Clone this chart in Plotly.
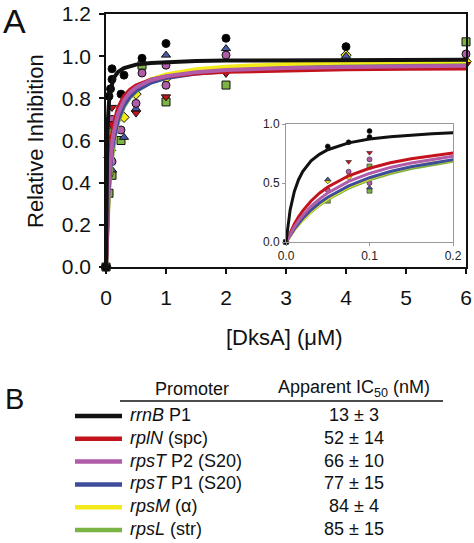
import plotly.graph_objects as go

W, H = 474, 543

# ---- fitted curves ----
curve_x = [0, 0.005, 0.01, 0.015, 0.02, 0.03, 0.04, 0.05, 0.075, 0.1, 0.125, 0.15, 0.175,
           0.2, 0.3, 0.4, 0.5, 0.75, 1, 1.5, 2, 3, 4, 5, 6]
curve_rrnB = [0, 0.274, 0.428, 0.528, 0.597, 0.687, 0.743, 0.782, 0.840, 0.872, 0.892, 0.906,
              0.917, 0.925, 0.944, 0.954, 0.960, 0.968, 0.972, 0.977, 0.979, 0.981, 0.982, 0.982, 0.983]
curve_rplN = [0, 0.083, 0.153, 0.213, 0.264, 0.348, 0.413, 0.466, 0.561, 0.625, 0.671, 0.705,
              0.732, 0.754, 0.810, 0.841, 0.861, 0.888, 0.903, 0.918, 0.926, 0.934, 0.938, 0.940, 0.942]
curve_rpsT2 = [0, 0.068, 0.127, 0.179, 0.224, 0.302, 0.364, 0.416, 0.513, 0.581, 0.632, 0.670,
               0.701, 0.726, 0.791, 0.828, 0.852, 0.887, 0.905, 0.924, 0.934, 0.944, 0.949, 0.952, 0.954]
curve_rpsT1 = [0, 0.059, 0.111, 0.157, 0.199, 0.271, 0.330, 0.380, 0.476, 0.545, 0.597, 0.638,
               0.670, 0.697, 0.768, 0.809, 0.836, 0.875, 0.896, 0.918, 0.929, 0.941, 0.947, 0.950, 0.953]
curve_rpsM = [0, 0.056, 0.105, 0.150, 0.190, 0.261, 0.319, 0.369, 0.467, 0.538, 0.592, 0.635,
              0.669, 0.697, 0.773, 0.818, 0.848, 0.890, 0.913, 0.938, 0.950, 0.963, 0.970, 0.974, 0.976]
curve_rpsL = [0, 0.054, 0.103, 0.146, 0.186, 0.254, 0.312, 0.361, 0.457, 0.527, 0.580, 0.622,
              0.656, 0.684, 0.760, 0.804, 0.833, 0.876, 0.899, 0.923, 0.935, 0.948, 0.955, 0.959, 0.961]

# ---- measured points ----
rrnB_x = [0, 0.05, 0.075, 0.1, 0.1, 0.25, 0.3, 0.6, 1, 2, 4]
rrnB_y = [0, 0.81, 0.845, 0.89, 0.94, 0.82, 0.91, 0.99, 1.06, 1.085, 1.045]
rplN_x = [0, 0.075, 0.1, 0.5, 1, 2, 6]
rplN_y = [0, 0.68, 0.757, 0.73, 0.807, 0.918, 0.96]
rpsT2_x = [0, 0.05, 0.075, 0.1, 0.1, 0.25, 0.5, 0.6, 1, 1, 2, 6]
rpsT2_y = [0, 0.44, 0.596, 0.70, 0.50, 0.65, 0.776, 0.92, 0.957, 0.862, 1.005, 1.01]
rpsT1_x = [0, 0.05, 0.1, 0.3, 0.5, 1, 2, 4]
rpsT1_y = [0, 0.53, 0.46, 0.615, 0.75, 1.005, 1.036, 1.0]
rpsM_x = [0, 0.05, 0.075, 0.3, 0.5, 1, 4, 6]
rpsM_y = [0, 0.52, 0.553, 0.71, 0.82, 0.894, 1.005, 0.975]
rpsL_x = [0, 0.05, 0.1, 0.1, 0.25, 0.6, 1, 2, 6]
rpsL_y = [0, 0.35, 0.64, 0.435, 0.60, 0.957, 0.783, 0.863, 1.068]

# ---- table ----
promoters = ["<i>rrnB</i> P1", "<i>rplN</i> (spc)", "<i>rpsT</i> P2 (S20)",
             "<i>rpsT</i> P1 (S20)", "<i>rpsM</i> (α)", "<i>rpsL</i> (str)"]
ic50_labels = ["13 ± 3", "52 ± 14", "66 ± 10", "77 ± 15", "84 ± 4", "85 ± 15"]

x_ticks = [0, 1, 2, 3, 4, 5, 6]

FONT = "Liberation Sans, Arial, sans-serif"

series = [
    # key, curve, px, py, line color, marker color, symbol
    ("rrnB", curve_rrnB, rrnB_x, rrnB_y, "#111111", "#000000", "circle"),
    ("rplN", curve_rplN, rplN_x, rplN_y, "#c3141e", "#c3141e", "triangle-down"),
    ("rpsT2", curve_rpsT2, rpsT2_x, rpsT2_y, "#b05ca8", "#b05ca8", "circle"),
    ("rpsT1", curve_rpsT1, rpsT1_x, rpsT1_y, "#3d4d9c", "#4a5aa8", "triangle-up"),
    ("rpsM", curve_rpsM, rpsM_x, rpsM_y, "#f3ea1a", "#f5ea14", "diamond"),
    ("rpsL", curve_rpsL, rpsL_x, rpsL_y, "#7bb445", "#7cb342", "square"),
]
by_key = {s[0]: s for s in series}
curve_order = ["rpsL", "rpsM", "rpsT1", "rplN", "rpsT2", "rrnB"]
marker_order = ["rpsL", "rpsM", "rpsT1", "rpsT2", "rplN", "rrnB"]

fig = go.Figure()

# main markers
for k in marker_order:
    _, c, mx, my, lc, mc, sym = by_key[k]
    fig.add_trace(go.Scatter(x=mx, y=my, mode="markers", xaxis="x", yaxis="y",
                             cliponaxis=False, showlegend=False,
                             marker=dict(symbol=sym, size=8, color=mc,
                                         line=dict(color="#111", width=1))))
# main curves
for k in curve_order:
    _, c, mx, my, lc, mc, sym = by_key[k]
    fig.add_trace(go.Scatter(x=curve_x, y=c, mode="lines", xaxis="x", yaxis="y",
                             showlegend=False, line=dict(color=lc, width=4)))

# inset markers
for k in marker_order:
    _, c, mx, my, lc, mc, sym = by_key[k]
    ix = [a for a, b in zip(mx, my) if a <= 0.2]
    iy = [b for a, b in zip(mx, my) if a <= 0.2]
    fig.add_trace(go.Scatter(x=ix, y=iy, mode="markers", xaxis="x2", yaxis="y2",
                             cliponaxis=False, showlegend=False,
                             marker=dict(symbol=sym, size=5, color=mc,
                                         line=dict(color="#222", width=0.6))))
# inset curves
for k in curve_order:
    _, c, mx, my, lc, mc, sym = by_key[k]
    fig.add_trace(go.Scatter(x=curve_x, y=c, mode="lines", xaxis="x2", yaxis="y2",
                             showlegend=False, line=dict(color=lc, width=3)))


def px(v):
    return v / W


def py(v):
    return 1 - v / H


main_axis = dict(showgrid=False, zeroline=False, showline=True, linecolor="#111",
                 linewidth=1.5, mirror=True, ticks="outside", ticklen=5, tickwidth=1.5,
                 automargin=False,
                 tickcolor="#111", tickfont=dict(size=21, family=FONT, color="#111"))
inset_axis = dict(showgrid=False, zeroline=False, showline=True, linecolor="#999",
                  linewidth=1, mirror=True, ticks="outside", ticklen=3, tickwidth=1,
                  automargin=False,
                  tickcolor="#999", tickfont=dict(size=12, family=FONT, color="#222"))

fig.update_layout(
    width=W, height=H, margin=dict(l=0, r=0, t=0, b=0, autoexpand=False),
    paper_bgcolor="white", plot_bgcolor="white",
    font=dict(family=FONT, color="#111"),
    xaxis=dict(domain=[px(106), px(466)], range=[0, 6], tickvals=x_ticks, anchor="y",
               ticklabelstandoff=6, **main_axis),
    yaxis=dict(domain=[py(267), py(14)], range=[0, 1.2], dtick=0.2, tickformat=".1f",
               anchor="x", ticklabelstandoff=4, **main_axis),
    xaxis2=dict(domain=[px(286), px(453)], range=[0, 0.2], dtick=0.1, tickformat=".1f",
                anchor="y2", **inset_axis),
    yaxis2=dict(domain=[py(242), py(124)], range=[0, 1.0], dtick=0.5, tickformat=".1f",
                anchor="x2", **inset_axis),
)


def note(text, x, y, size, xanchor="center", angle=0):
    return dict(text=text, x=px(x), y=py(y), xref="paper", yref="paper",
                xanchor=xanchor, yanchor="middle", textangle=angle, showarrow=False,
                font=dict(size=size, family=FONT, color="#111"))


ann = [
    note("A", 14, 21, 34),
    note("B", 14, 399, 29),
    note("Relative Inhibition", 35, 141, 22, angle=-90),
    note("[DksA] (μM)", 284, 337, 22),
    note("Promoter", 192, 389, 18),
    note("Apparent IC<sub>50</sub> (nM)", 354, 389, 18),
]

shapes = [dict(type="line", xref="paper", yref="paper", x0=px(120), x1=px(443),
               y0=py(401), y1=py(401), line=dict(color="#111", width=1.5))]

row_keys = ["rrnB", "rplN", "rpsT2", "rpsT1", "rpsM", "rpsL"]
row_y0, row_dy = 415, 22.8
for i, (lab, val, k) in enumerate(zip(promoters, ic50_labels, row_keys)):
    yy = row_y0 + i * row_dy
    shapes.append(dict(type="line", xref="paper", yref="paper", x0=px(75), x1=px(122),
                       y0=py(yy + 1), y1=py(yy + 1), line=dict(color=by_key[k][4], width=4.5)))
    ann.append(note(lab, 128, yy, 18, xanchor="left"))
    ann.append(note(val, 354, yy, 18))

fig.update_layout(annotations=ann, shapes=shapes)
fig.write_html("out.html", config={"displayModeBar": False},
               post_script="document.body.style.margin='0';document.body.style.overflow='hidden';")
